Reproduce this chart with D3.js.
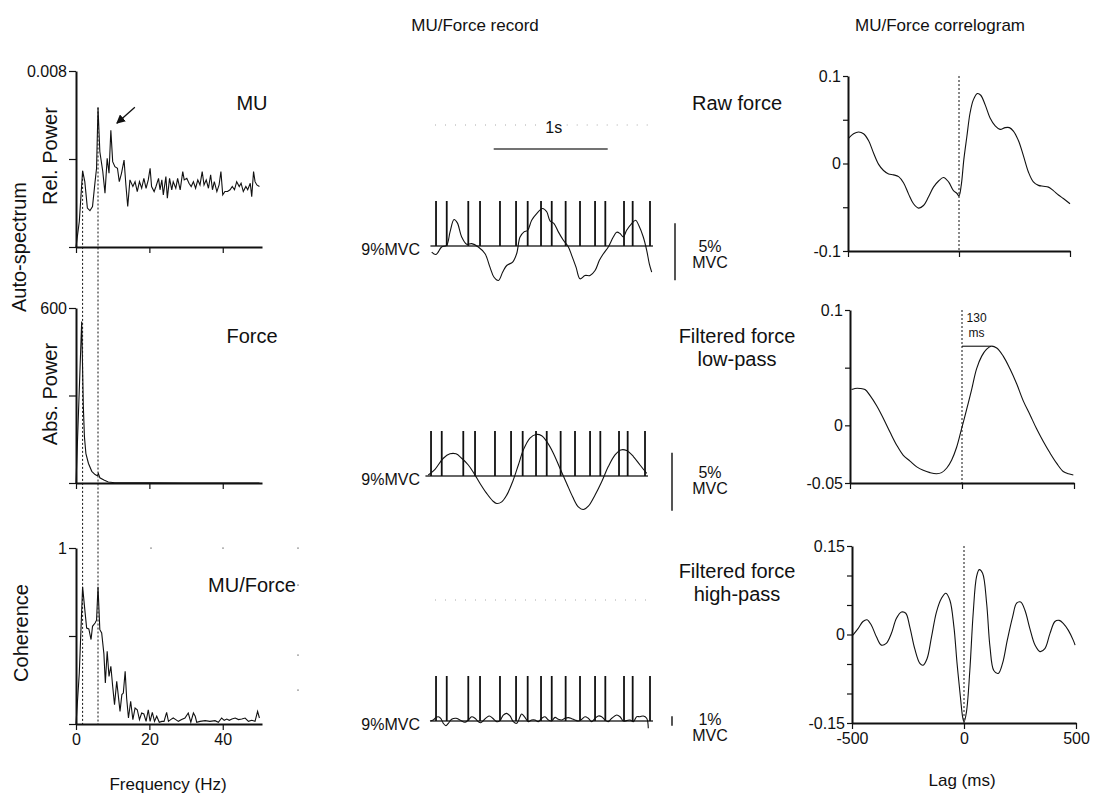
<!DOCTYPE html>
<html>
<head>
<meta charset="utf-8">
<script src="https://cdn.jsdelivr.net/npm/d3@7"></script>
<style>
  body { margin: 0; background: #fff; }
  svg { display: block; font-family: Arial, "Liberation Sans", Helvetica, sans-serif; }
</style>
</head>
<body>
<svg id="fig" width="1097" height="796"></svg>
<script>
// ---------- Auto-spectra and coherence (Hz) ----------
const muFreq = [0, 0.9, 1.8, 2.4, 3.1, 3.8, 4.5, 5.2, 5.6, 6.0, 6.5, 7.3, 7.9, 8.5, 9.0, 9.5, 10.0, 10.6, 11.3, 11.8,
  12.4, 13.1, 13.6, 14.1, 14.7, 15.5, 16.1, 16.7, 17.3, 17.9, 18.5, 19.1, 19.7, 20.2, 20.6, 21.3, 21.8, 22.5, 22.9, 23.4,
  23.8, 24.5, 24.9, 25.5, 26.1, 26.5, 27.2, 27.7, 28.4, 29.1, 29.5, 30.2, 30.8, 31.4, 32.0, 32.6, 33.2, 33.8, 34.4, 34.9,
  35.5, 36.1, 36.7, 37.2, 37.7, 38.4, 39.0, 39.5, 40.0, 40.6, 41.3, 42.0, 42.6, 43.2, 43.8, 44.5, 45.0, 45.6, 46.3, 46.8,
  47.5, 47.9, 48.4, 48.8, 49.3, 50.0];
const muPower = [0, 0.00116, 0.00346, 0.00297, 0.00177, 0.00165, 0.00184, 0.00297, 0.00358, 0.00634,
  0.00433, 0.00343, 0.00245, 0.00403, 0.00335, 0.00531, 0.00388, 0.00365, 0.00358, 0.00297,
  0.00335, 0.00395, 0.00282, 0.00184, 0.00305, 0.00275, 0.00297, 0.00252, 0.00297, 0.00267,
  0.00312, 0.00267, 0.00305, 0.00358, 0.00275, 0.00252, 0.00275, 0.00312, 0.00260, 0.00305,
  0.00237, 0.00320, 0.00222, 0.00312, 0.00260, 0.00297, 0.00267, 0.00312, 0.00260, 0.00343,
  0.00305, 0.00312, 0.00290, 0.00275, 0.00297, 0.00267, 0.00305, 0.00282, 0.00343, 0.00282,
  0.00305, 0.00267, 0.00328, 0.00260, 0.00297, 0.00252, 0.00282, 0.00343, 0.00237, 0.00252,
  0.00252, 0.00260, 0.00275, 0.00260, 0.00297, 0.00275, 0.00290, 0.00252, 0.00275, 0.00260,
  0.00290, 0.00229, 0.00343, 0.00297, 0.00282, 0.00275];

const forceFreq = [0, 1.55, 2.0, 2.3, 2.7, 3.4, 4.3, 5.2, 5.8, 6.1, 6.5, 7.6, 8.8, 10.6, 14, 20, 30, 40, 50];
const forcePower = [0, 554, 262, 158, 101, 67, 40, 29, 25, 32, 18, 10, 3.4, 1, 0.5, 0.3, 0.2, 0.2, 0.2];

const cohFreq = [0, 0.9, 1.8, 2.4, 2.9, 3.5, 4.1, 4.5, 5.2, 5.6, 6.0, 6.5, 7.0, 7.6, 8.0, 8.5, 9.0, 9.5, 10.0, 10.5,
  11.1, 11.5, 12.0, 12.5, 12.9, 13.4, 13.8, 14.3, 14.9, 15.5, 16.1, 16.7, 17.3, 17.9, 18.5, 19.1, 19.7, 20.2, 20.8, 21.4,
  22.0, 22.7, 23.4, 24.0, 24.7, 25.2, 25.8, 26.5, 27.2, 27.9, 28.8, 29.7, 30.6, 31.3, 32.0, 32.5, 32.9, 33.8, 35.2, 36.5,
  37.9, 38.8, 39.7, 40.4, 41.1, 41.8, 42.5, 43.4, 44.3, 45.2, 46.1, 47.0, 47.9, 48.8, 49.5, 50.0];
const cohVal = [0, 0.29, 0.78, 0.65, 0.545, 0.54, 0.48, 0.555, 0.574, 0.59, 0.78, 0.536, 0.517, 0.40, 0.233, 0.413, 0.27, 0.328, 0.214, 0.11,
  0.242, 0.167, 0.072, 0.167, 0.176, 0.30, 0.148, 0.034, 0.129, 0.025, 0.091, 0.081, 0.025, 0.0625, 0.057, 0.015, 0.081, 0.015, 0.066, 0.015,
  0.044, 0.01, 0.015, 0.015, 0.066, 0.015, 0.025, 0.034, 0.025, 0.015, 0.025, 0.034, 0.0625, 0.01, 0.0625, 0.044, 0.01, 0.015, 0.019, 0.015,
  0.019, 0.01, 0.034, 0.021, 0.028, 0.021, 0.028, 0.034, 0.025, 0.028, 0.034, 0.015, 0.021, 0.015, 0.072, 0.034];

// Frequencies marked by the dotted guide lines (Hz)
const markedFreqs = [1.8, 6.0];
const freqTicks = [0, 20, 40];

// ---------- MU / force records (time in ms, force as deviation from 9 %MVC) ----------
const spikeTimes = [9, 103, 292, 395, 570, 711, 813, 930, 1024, 1146, 1272, 1404, 1494, 1658, 1734, 1886];

const rawT = [-29, 9, 58, 102, 132, 167, 196, 234, 278, 322, 380, 439, 482, 518, 556, 594, 629, 681, 716, 746,
  781, 813, 848, 892, 944, 980, 1009, 1044, 1082, 1126, 1170, 1199, 1237, 1272, 1316, 1360, 1404, 1442, 1477, 1520,
  1564, 1594, 1623, 1652, 1681, 1725, 1760, 1787, 1827, 1857, 1880, 1901];
const rawV = [-0.53, -0.74, -0.09, 0.06, 1.24, 2.32, 2.03, 0.79, 0.15, 0.21, -0.09, -0.68, -1.85, -2.74, -3.03, -2.29, -1.71, -1.41, -0.68, 0.79,
  1.24, 1.38, 2.26, 2.85, 3.29, 3.0, 2.21, 1.97, 1.24, 0.5, -0.09, -0.82, -1.85, -2.88, -2.59, -2.59, -2.15, -1.26, -0.68, -0.09,
  0.79, 1.21, 1.09, 0.79, 1.38, 1.97, 2.26, 1.82, 0.79, -0.38, -1.56, -2.29];

const lowT = [-15, 44, 117, 175, 228, 278, 336, 386, 439, 497, 550, 585, 629, 673, 725, 775, 819, 877, 930, 980,
  1023, 1082, 1140, 1199, 1251, 1301, 1345, 1389, 1447, 1506, 1564, 1623, 1673, 1725, 1784, 1842, 1901];
const lowV = [0.09, 0.58, 1.53, 1.91, 1.91, 1.53, 0.95, 0.23, -0.64, -1.5, -2.14, -2.37, -2.23, -1.65, -0.49, 0.95, 2.25, 3.27, 3.58, 3.47,
  2.98, 1.97, 0.66, -0.64, -1.79, -2.66, -2.89, -2.6, -1.65, -0.49, 0.81, 1.82, 2.25, 2.2, 1.68, 0.95, 0.23];

const highT = [-44, -15, 9, 29, 50, 73, 96, 117, 146, 184, 219, 263, 292, 322, 351, 380, 401, 424, 453, 477,
  506, 541, 570, 599, 629, 658, 687, 716, 746, 760, 789, 819, 848, 877, 906, 936, 965, 994, 1023, 1053,
  1082, 1111, 1140, 1170, 1199, 1228, 1257, 1287, 1316, 1345, 1374, 1404, 1433, 1462, 1491, 1520, 1550, 1594, 1623, 1652,
  1681, 1711, 1740, 1769, 1798, 1827, 1857, 1871];
const highV = [0, 0.11, 0.39, 0.46, 0.29, -0.25, -0.5, -0.25, 0.18, 0.29, 0.11, -0.14, 0.11, 0.46, 0.29, -0.07, -0.18, 0.04, 0.39, 0.54,
  0.29, -0.07, 0.04, 0.64, 0.82, 0.54, -0.07, -0.25, 0.46, 0.75, 0.39, -0.07, 0.11, 0.11, -0.07, 0.29, 0.46, 0.11, 0, 0.39,
  0.18, 0.11, 0.29, 0.36, 0.25, 0.11, 0, 0.18, 0.46, 0.29, -0.07, 0.29, 0.54, 0.46, 0.11, -0.07, 0.29, 0.64, 0.46, 0,
  0.04, 0.11, -0.07, 0.46, 0.46, 0.54, 0.29, -0.79];

// ---------- Correlograms (lag in ms) ----------
const lagRaw = [-497, -475, -452, -430, -407, -385, -362, -340, -317, -295, -272, -250, -227, -205, -182, -160, -137, -115, -92, -70,
  -47, -25, -10, 0, 10, 22, 35, 50, 65, 83, 98, 118, 140, 163, 185, 208, 227, 245, 268, 290,
  313, 335, 358, 380, 403, 425, 448, 470, 500];
const corrRaw = [0.029, 0.034, 0.036, 0.034, 0.026, 0.012, -0.001, -0.008, -0.012, -0.013, -0.015, -0.022, -0.035, -0.046, -0.051, -0.048, -0.038, -0.027, -0.020, -0.016,
  -0.021, -0.031, -0.034, -0.037, -0.025, 0.005, 0.030, 0.058, 0.073, 0.080, 0.078, 0.067, 0.052, 0.043, 0.039, 0.041, 0.041, 0.037, 0.026, 0.009,
  -0.010, -0.021, -0.025, -0.026, -0.027, -0.031, -0.036, -0.040, -0.046];

const lagLow = [-493, -478, -455, -433, -411, -381, -351, -321, -292, -262, -232, -202, -173, -143, -113, -91, -68, -46, -24, -2,
  21, 43, 65, 88, 110, 130, 155, 184, 214, 244, 274, 304, 333, 363, 393, 423, 452, 475, 497];
const corrLow = [0.031, 0.032, 0.032, 0.031, 0.026, 0.017, 0.006, -0.006, -0.017, -0.026, -0.031, -0.036, -0.039, -0.041, -0.042, -0.041, -0.037, -0.030, -0.019, -0.003,
  0.014, 0.031, 0.049, 0.060, 0.066, 0.0686, 0.067, 0.060, 0.049, 0.036, 0.021, 0.009, -0.003, -0.014, -0.024, -0.033, -0.040, -0.042, -0.043];

const lagHigh = [-496, -473, -451, -433, -414, -391, -369, -347, -324, -302, -279, -260, -242, -220, -197, -183, -165, -145, -123, -101,
  -81, -63, -45, -31, -16, -6, 0, 11, 26, 41, 56, 68, 83, 101, 116, 133, 153, 172, 193, 217,
  235, 253, 272, 294, 317, 339, 361, 384, 406, 425, 443, 466, 488, 496];
const corrHigh = [-0.001, 0.010, 0.022, 0.025, 0.016, -0.004, -0.018, -0.015, 0.002, 0.027, 0.038, 0.036, 0.013, -0.024, -0.049, -0.052, -0.041, -0.004, 0.038, 0.061,
  0.070, 0.058, 0.013, -0.049, -0.106, -0.140, -0.148, -0.131, -0.061, 0.036, 0.098, 0.110, 0.104, 0.053, -0.021, -0.061, -0.066, -0.049, -0.010, 0.030,
  0.053, 0.055, 0.041, 0.010, -0.018, -0.029, -0.024, 0.002, 0.022, 0.024, 0.019, 0.007, -0.010, -0.018];

const lagTicks = [-500, 0, 500];

// ---------- drawing ----------
const svg = d3.select('#fig');
const INK = '#111';

function label(x, y, s, size, anchor = 'middle', rotate = false) {
  return svg.append('text')
    .attr('transform', rotate ? `translate(${x},${y}) rotate(-90)` : `translate(${x},${y})`)
    .attr('text-anchor', anchor)
    .attr('font-size', size)
    .attr('fill', INK)
    .text(s);
}

function styleAxis(g, size) {
  g.select('.domain').attr('stroke', INK).attr('stroke-width', 2);
  g.selectAll('.tick line').attr('stroke', INK).attr('stroke-width', 1.2);
  g.selectAll('.tick text').attr('fill', INK).attr('font-size', size).attr('font-family', null);
}

// Column titles
label(475, 31, 'MU/Force record', 17);
label(940, 31, 'MU/Force correlogram', 17);

// ----- left column: spectra -----
const fx = d3.scaleLinear().domain([0, 50.7]).range([76, 262]);
const specPanels = [
  { f: muFreq, v: muPower, y: d3.scaleLinear().domain([0, 0.008]).range([247, 71]), ticks: [0, 0.004, 0.008], top: '0.008', name: 'MU', nameY: 110 },
  { f: forceFreq, v: forcePower, y: d3.scaleLinear().domain([0, 600]).range([483, 308]), ticks: [0, 300, 600], top: '600', name: 'Force', nameY: 343 },
  { f: cohFreq, v: cohVal, y: d3.scaleLinear().domain([0, 1]).range([724, 548]), ticks: [0, 0.5, 1], top: '1', name: 'MU/Force', nameY: 592, xLabels: true }
];

specPanels.forEach(p => {
  const pts = d3.zip(p.f, p.v);
  svg.append('path')
    .attr('d', d3.line().x(d => fx(d[0])).y(d => p.y(d[1]))(pts))
    .attr('fill', 'none').attr('stroke', INK).attr('stroke-width', 1.1);

  const ya = svg.append('g').attr('transform', `translate(${fx(0)},0)`)
    .call(d3.axisLeft(p.y).tickValues(p.ticks).tickSize(7).tickPadding(2).tickSizeOuter(0)
      .tickFormat(d => d === p.ticks[2] ? p.top : ''));
  styleAxis(ya, 16);

  const xa = svg.append('g').attr('transform', `translate(0,${p.y(0)})`)
    .call(d3.axisBottom(fx).tickValues(freqTicks).tickSize(6).tickPadding(4).tickSizeOuter(0)
      .tickFormat(d => p.xLabels ? String(d) : ''));
  styleAxis(xa, 16);

  label(252, p.nameY, p.name, 20);
});

// dotted guides through all three spectra
const muPanel = specPanels[0], cohPanel = specPanels[2];
markedFreqs.forEach(f => {
  const i = muFreq.indexOf(f);
  svg.append('line')
    .attr('x1', fx(f)).attr('x2', fx(f))
    .attr('y1', muPanel.y(muPower[i])).attr('y2', cohPanel.y(0))
    .attr('stroke', INK).attr('stroke-width', 1).attr('stroke-dasharray', '2,2');
});

// arrow pointing at the 9.5 Hz peak
{
  const i = muFreq.indexOf(9.5);
  const px = fx(muFreq[i]) + 6, py = muPanel.y(muPower[i]) - 7;
  const defs = svg.append('defs');
  defs.append('marker').attr('id', 'arrowhead').attr('viewBox', '0 0 10 10')
    .attr('refX', 9).attr('refY', 5).attr('markerWidth', 9).attr('markerHeight', 9)
    .attr('markerUnits', 'userSpaceOnUse').attr('orient', 'auto')
    .append('path').attr('d', 'M0,0 L10,5 L0,10 Z').attr('fill', INK);
  svg.append('line')
    .attr('x1', px + 18).attr('y1', py - 16).attr('x2', px).attr('y2', py)
    .attr('stroke', INK).attr('stroke-width', 1.3).attr('marker-end', 'url(#arrowhead)');
}

// y titles and x title
label(26, 247, 'Auto-spectrum', 20, 'middle', true);
label(57, 156, 'Rel. Power', 20, 'middle', true);
label(57, 394, 'Abs. Power', 20, 'middle', true);
label(28, 633, 'Coherence', 20, 'middle', true);
label(168, 790, 'Frequency (Hz)', 17);

// faint grid remnants round the coherence panel
[[151, 548], [223, 548], [298, 548], [298, 585], [298, 655], [298, 690]].forEach(([x, y]) => {
  svg.append('rect').attr('x', x - 1).attr('y', y - 0.5).attr('width', 2).attr('height', 1.2).attr('fill', '#999');
});

// ----- middle column: records -----
const records = [
  { x0: 435, base: 246, t: rawT, v: rawV, ppp: 11.4, bar: [-3, 2], barX: 675, barText: '5%', textY: 252, right: 'Raw force', rightY: [110] },
  { x0: 430, base: 476, t: lowT, v: lowV, ppp: 11.6, bar: [-3, 2], barX: 672, barText: '5%', textY: 478, right: 'Filtered force|low-pass', rightY: [343, 366] },
  { x0: 435, base: 721, t: highT, v: highV, ppp: 9.3, bar: [-0.5, 0.5], barX: 672, barText: '1%', textY: 725, right: 'Filtered force|high-pass', rightY: [578, 601] }
];
const SPIKE_H = 45;

records.forEach(r => {
  const xr = d3.scaleLinear().domain([0, 1000]).range([r.x0, r.x0 + 114]);
  const yr = d3.scaleLinear().domain([0, 1]).range([r.base, r.base - r.ppp]);
  r.xr = xr;

  // baseline at 9 %MVC
  svg.append('line').attr('x1', xr(-40)).attr('x2', xr(1912))
    .attr('y1', yr(0)).attr('y2', yr(0)).attr('stroke', '#333').attr('stroke-width', 1.6);

  // motor-unit discharges
  svg.append('g').selectAll('line').data(spikeTimes).join('line')
    .attr('x1', d => xr(d)).attr('x2', d => xr(d))
    .attr('y1', yr(0)).attr('y2', yr(0) - SPIKE_H)
    .attr('stroke', INK).attr('stroke-width', 1.8);

  // force trace
  svg.append('path')
    .attr('d', d3.line().curve(d3.curveCatmullRom.alpha(0.5)).x(d => xr(d[0])).y(d => yr(d[1]))(d3.zip(r.t, r.v)))
    .attr('fill', 'none').attr('stroke', INK).attr('stroke-width', 1.1);

  // amplitude calibration bar
  svg.append('line').attr('x1', r.barX).attr('x2', r.barX)
    .attr('y1', yr(r.bar[0])).attr('y2', yr(r.bar[1]))
    .attr('stroke', '#555').attr('stroke-width', 2);
  label(710, r.textY, r.barText, 16);
  label(710, r.textY + 16, 'MVC', 16);
  label(420, r.base + 9, '9%MVC', 16, 'end');

  r.right.split('|').forEach((s, k) => label(737, r.rightY[k], s, 20));
});

// 1 s time calibration
{
  const xr = records[0].xr;
  const t0 = 515, t1 = t0 + 1000;
  svg.append('line').attr('x1', xr(t0)).attr('x2', xr(t1)).attr('y1', 149).attr('y2', 149)
    .attr('stroke', '#444').attr('stroke-width', 1.5);
  const mid = (xr(t0) + xr(t1)) / 2;
  label(mid + 3, 133, '1s', 16);
  [[435, mid - 10], [mid + 16, 652]].forEach(([a, b]) => {
    svg.append('line').attr('x1', a).attr('x2', b).attr('y1', 125).attr('y2', 125)
      .attr('stroke', '#aaa').attr('stroke-width', 1).attr('stroke-dasharray', '1,9');
  });
  svg.append('line').attr('x1', 435).attr('x2', 652).attr('y1', 600).attr('y2', 600)
    .attr('stroke', '#aaa').attr('stroke-width', 1).attr('stroke-dasharray', '1,9');
}

// ----- right column: correlograms -----
const corrPanels = [
  { lag: lagRaw, v: corrRaw, xr: [848, 1070], y: d3.scaleLinear().domain([-0.1, 0.1]).range([251, 76]), ticks: [-0.1, -0.05, 0, 0.05, 0.1], shown: [-0.1, 0, 0.1] },
  { lag: lagLow, v: corrLow, xr: [850, 1074], y: d3.scaleLinear().domain([-0.05, 0.1]).range([483, 310]), ticks: [-0.05, 0, 0.05, 0.1], shown: [-0.05, 0, 0.1], peak: true },
  { lag: lagHigh, v: corrHigh, xr: [852, 1076], y: d3.scaleLinear().domain([-0.15, 0.15]).range([723, 546]), ticks: [-0.15, -0.1, -0.05, 0, 0.05, 0.1, 0.15], shown: [-0.15, 0, 0.15], xLabels: true }
];

corrPanels.forEach(p => {
  const x = d3.scaleLinear().domain([-500, 500]).range(p.xr);
  const [ymin, ymax] = p.y.domain();

  svg.append('line').attr('x1', x(0)).attr('x2', x(0)).attr('y1', p.y(ymax)).attr('y2', p.y(ymin))
    .attr('stroke', INK).attr('stroke-width', 1).attr('stroke-dasharray', '2,2');

  svg.append('path')
    .attr('d', d3.line().curve(d3.curveCatmullRom.alpha(0.5)).x(d => x(d[0])).y(d => p.y(d[1]))(d3.zip(p.lag, p.v)))
    .attr('fill', 'none').attr('stroke', INK).attr('stroke-width', 1.1);

  const ya = svg.append('g').attr('transform', `translate(${x(-500)},0)`)
    .call(d3.axisLeft(p.y).tickValues(p.ticks).tickSize(5).tickPadding(2).tickSizeOuter(0)
      .tickFormat(d => p.shown.includes(d) ? String(d) : ''));
  styleAxis(ya, 16);

  const xa = svg.append('g').attr('transform', `translate(0,${p.y(ymin)})`)
    .call(d3.axisBottom(x).tickValues(lagTicks).tickSize(6).tickPadding(4).tickSizeOuter(0)
      .tickFormat(d => p.xLabels ? String(d) : ''));
  styleAxis(xa, 16);

  if (p.peak) {
    const i = d3.maxIndex(p.v);
    const lag = p.lag[i], yv = p.y(p.v[i]);
    svg.append('line').attr('x1', x(0)).attr('x2', x(lag)).attr('y1', yv).attr('y2', yv)
      .attr('stroke', INK).attr('stroke-width', 1.1);
    const cx = (x(0) + x(lag)) / 2;
    label(cx, yv - 24, String(lag), 12);
    label(cx, yv - 9, 'ms', 12);
  }
});

label(962, 786, 'Lag (ms)', 17);
</script>
</body>
</html>
